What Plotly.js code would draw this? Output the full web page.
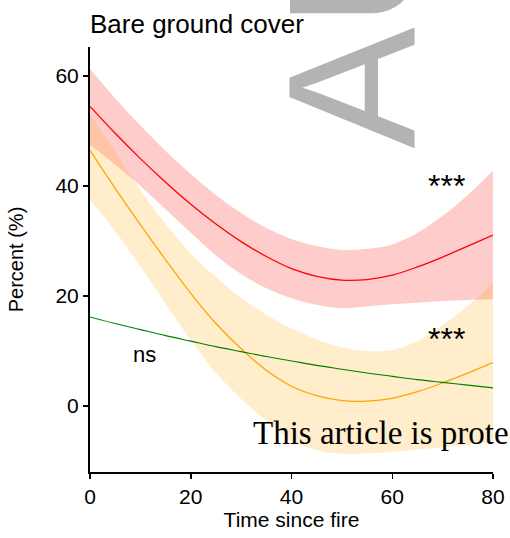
<!DOCTYPE html>
<html>
<head>
<meta charset="utf-8">
<script src="https://cdn.plot.ly/plotly-3.0.1.min.js"></script>
<style>html,body{margin:0;padding:0;overflow:hidden;background:#fff}</style>
</head>
<body>
<div id="chart" style="width:510px;height:538px;"></div>
<script>
// Time since fire
const time = [0,5,10,15,20,25,30,35,40,45,50,55,60,65,70,75,80];
// Red series (fit and confidence band)
const redFit = [54.5,49.6,45.0,40.7,36.7,33.1,29.9,27.2,25.0,23.6,22.9,23.0,23.8,25.3,27.1,29.1,31.1];
const redLo  = [47.5,43.9,40.0,35.8,31.5,27.4,24.0,21.4,19.6,18.4,17.8,18.1,18.5,18.8,19.1,19.3,19.4];
const redHi  = [61.3,56.0,51.0,46.4,42.2,38.4,35.1,32.4,30.4,29.1,28.4,28.6,29.4,31.5,34.6,38.4,42.8];
// Orange series
const orangeFit = [46.5,39.6,33.0,26.6,20.5,15.0,10.4,6.5,3.6,1.9,1.0,0.9,1.4,2.6,4.2,6.0,7.9];
const orangeLo  = [37.5,31.8,25.4,18.6,12.0,6.0,1.3,-2.7,-6.3,-8.0,-8.7,-8.6,-8.3,-7.9,-7.5,-7.1,-6.7];
const orangeHi  = [53.2,46.1,39.3,33.1,27.8,23.4,19.7,16.6,14.1,12.1,10.7,10.0,10.2,11.8,14.7,18.2,22.4];
// Green series (fit only)
const greenFit = [16.2,15.0,13.9,12.8,11.8,10.8,9.9,9.0,8.2,7.4,6.7,6.0,5.4,4.8,4.3,3.8,3.3];

const xTicks = [0,20,40,60,80];
const yTicks = [0,20,40,60];

const FONT = 'Liberation Sans, Arial, Helvetica, sans-serif';

function band(lo, hi, color) {
  return [
    {x: time, y: lo, mode: 'lines', line: {width: 0, shape: 'spline'}, hoverinfo: 'skip', showlegend: false},
    {x: time, y: hi, mode: 'lines', line: {width: 0, shape: 'spline'}, fill: 'tonexty', fillcolor: color, hoverinfo: 'skip', showlegend: false}
  ];
}

const traces = [
  ...band(redLo, redHi, 'rgba(255,0,0,0.2)'),
  ...band(orangeLo, orangeHi, 'rgba(255,165,0,0.2)'),
  {x: time, y: redFit, mode: 'lines', line: {color: 'red', width: 1.3, shape: 'spline'}, showlegend: false},
  {x: time, y: orangeFit, mode: 'lines', line: {color: 'orange', width: 1.3, shape: 'spline'}, showlegend: false},
  {x: time, y: greenFit, mode: 'lines', line: {color: 'green', width: 1.1, shape: 'spline'}, showlegend: false}
];

const layout = {
  width: 510, height: 538,
  margin: {l: 90, r: 17, t: 47, b: 66},
  paper_bgcolor: '#fff', plot_bgcolor: '#fff',
  font: {family: FONT, color: '#000', size: 20},
  title: {text: 'Bare ground cover', font: {size: 26, family: FONT, color: '#000'},
          xref: 'paper', x: 0, xanchor: 'left', yref: 'container', y: 0.956, yanchor: 'middle'},
  xaxis: {
    range: [0, 80], showgrid: false, zeroline: false,
    showline: true, linecolor: '#000', linewidth: 2,
    ticks: 'outside', ticklen: 5, tickwidth: 1.5, tickcolor: '#000',
    tickvals: xTicks, ticktext: xTicks.map(String),
    tickfont: {size: 21, family: FONT},
    title: {text: 'Time since fire', font: {size: 21, family: FONT}, standoff: 5}
  },
  yaxis: {
    range: [-12, 65.3], showgrid: false, zeroline: false,
    showline: true, linecolor: '#000', linewidth: 2,
    ticks: 'outside', ticklen: 5, tickwidth: 1.5, tickcolor: '#000',
    tickvals: yTicks, ticktext: yTicks.map(String),
    tickfont: {size: 21, family: FONT},
    title: {text: 'Percent (%)', font: {size: 20, family: FONT}, standoff: 26}
  },
  annotations: [
    {text: 'AU', x: 331/510, y: 1 - 131/538, xref: 'paper', yref: 'paper', textangle: -90,
     xanchor: 'center', yanchor: 'bottom', showarrow: false,
     font: {size: 182, family: FONT, color: '#b3b3b3'}},
    {text: '***', x: 70.7, y: 40.0, xref: 'x', yref: 'y', showarrow: false,
     font: {size: 32, family: FONT, color: '#000'}},
    {text: '***', x: 70.7, y: 12.2, xref: 'x', yref: 'y', showarrow: false,
     font: {size: 32, family: FONT, color: '#000'}},
    {text: 'ns', x: 10.9, y: 9.4, xref: 'x', yref: 'y', showarrow: false,
     font: {size: 22, family: FONT, color: '#000'}},
    {text: 'This article is protected by copyright. All rights reserved',
     x: (251 - 90) / 403, y: (472 - 432.5) / 425, xref: 'paper', yref: 'paper',
     showarrow: false, xanchor: 'left', yanchor: 'middle',
     font: {size: 33, family: 'Liberation Serif, DejaVu Serif, serif', color: '#000'}}
  ]
};

Plotly.newPlot('chart', traces, layout, {displayModeBar: false, staticPlot: true});
</script>
</body>
</html>
